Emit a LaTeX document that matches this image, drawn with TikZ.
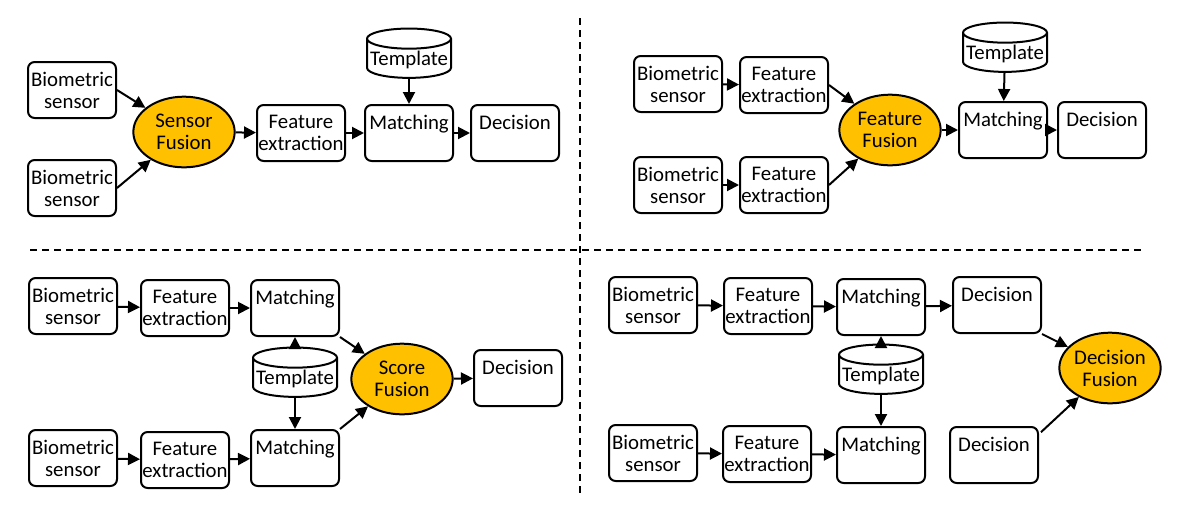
\documentclass[tikz,border=0pt]{standalone}
\usepackage{fontspec}
\setmainfont{Carlito}
\usetikzlibrary{shapes.geometric,arrows.meta}
\definecolor{fusegold}{HTML}{FFC000}

\begin{document}
\begin{tikzpicture}[
  x=0.75pt, y=-0.75pt,
  font=\fontsize{15.6}{16.5}\selectfont,
  box/.style={draw, rounded corners=5pt, line width=1.5pt, align=center,
              minimum width=66pt, minimum height=42pt, inner sep=0.5pt},
  fusion/.style={ellipse, draw, line width=1.5pt, fill=fusegold, align=center,
                 minimum width=76pt, minimum height=53pt, inner sep=0pt},
  store/.style={cylinder, shape border rotate=90, aspect=0.25, draw,
                line width=1.5pt, minimum width=63pt, minimum height=37pt,
                inner sep=1pt},
  arrow/.style={-{Triangle[length=9pt,width=9pt]}, line width=1.5pt},
  divider/.style={line width=1.2pt, dash pattern=on 5pt off 4pt}
]
  \useasboundingbox (0,0) rectangle (1186,515);

  % panel 1: sensor-level fusion
  \node[box] (p1bio1) at (72,90) {Biometric\\sensor};
  \node[box] (p1bio2) at (72,188) {Biometric\\sensor};
  \node[fusion] (p1fuse) at (184,132) {Sensor\\Fusion};
  \node[box] (p1feat) at (301,133) {Feature\\extraction};
  \node[store] (p1tmpl) at (409,60) {Template};
  \node[box] (p1match) at (409,133) {Matching\\\mbox{}};
  \node[box] (p1dec) at (515,133) {Decision\\\mbox{}};

  \draw[arrow] (p1bio1.east) -- (p1fuse);
  \draw[arrow] (p1bio2.east) -- (p1fuse);
  \draw[arrow] (p1fuse) -- (p1feat);
  \draw[arrow] (p1feat) -- (p1match);
  \draw[arrow] (p1match) -- (p1dec);
  \draw[arrow] (p1tmpl) -- (p1match);

  % panel 2: feature-level fusion
  \node[box] (p2bio1) at (678,84) {Biometric\\sensor};
  \node[box] (p2feat1) at (784,85) {Feature\\extraction};
  \node[box] (p2bio2) at (678,185) {Biometric\\sensor};
  \node[box] (p2feat2) at (784,185) {Feature\\extraction};
  \node[fusion] (p2fuse) at (890,130) {Feature\\Fusion};
  \node[store] (p2tmpl) at (1005,54) {Template};
  \node[box] (p2match) at (1003,130) {Matching\\\mbox{}};
  \node[box] (p2dec) at (1102,130) {Decision\\\mbox{}};

  \draw[arrow] (p2bio1) -- (p2feat1);
  \draw[arrow] (p2bio2) -- (p2feat2);
  \draw[arrow] (p2feat1.east) -- (p2fuse);
  \draw[arrow] (p2feat2.east) -- (p2fuse);
  \draw[arrow] (p2fuse.east) -- (p2match.west);
  \draw[arrow] (p2match) -- (p2dec);
  \draw[arrow] (p2tmpl) -- (p2match);

  % panel 3: score-level fusion
  \node[box] (p3bio1) at (73,306) {Biometric\\sensor};
  \node[box] (p3feat1) at (185,308) {Feature\\extraction};
  \node[box] (p3match1) at (295,308) {Matching\\\mbox{}};
  \node[store] (p3tmpl) at (295,379) {Template};
  \node[box] (p3match2) at (295,458) {Matching\\\mbox{}};
  \node[box] (p3bio2) at (73,458) {Biometric\\sensor};
  \node[box] (p3feat2) at (185,460) {Feature\\extraction};
  \node[fusion] (p3fuse) at (402,379) {Score\\Fusion};
  \node[box] (p3dec) at (518,378) {Decision\\\mbox{}};

  \draw[arrow] (p3bio1) -- (p3feat1);
  \draw[arrow] (p3feat1) -- (p3match1);
  \draw[arrow] (p3bio2) -- (p3feat2);
  \draw[arrow] (p3feat2) -- (p3match2);
  \draw[arrow] (p3tmpl) -- (p3match1);
  \draw[arrow] (p3tmpl) -- (p3match2);
  \draw[arrow] (p3match1.south east) -- (p3fuse);
  \draw[arrow] (p3match2.north east) -- (p3fuse);
  \draw[arrow] (p3fuse) -- (p3dec);

  % panel 4: decision-level fusion
  \node[box] (p4bio1) at (653,305) {Biometric\\sensor};
  \node[box] (p4feat1) at (768,306) {Feature\\extraction};
  \node[box] (p4match1) at (881,307) {Matching\\\mbox{}};
  \node[store] (p4tmpl) at (881,376) {Template};
  \node[box] (p4match2) at (881,455) {Matching\\\mbox{}};
  \node[box] (p4bio2) at (653,453) {Biometric\\sensor};
  \node[box] (p4feat2) at (767,454) {Feature\\extraction};
  \node[box] (p4dec1) at (997,305) {Decision\\\mbox{}};
  \node[box] (p4dec2) at (994,455) {Decision\\\mbox{}};
  \node[fusion] (p4fuse) at (1110,368) {Decision\\Fusion};

  \draw[arrow] (p4bio1) -- (p4feat1);
  \draw[arrow] (p4feat1) -- (p4match1);
  \draw[arrow] (p4bio2) -- (p4feat2);
  \draw[arrow] (p4feat2) -- (p4match2);
  \draw[arrow] (p4tmpl) -- (p4match1);
  \draw[arrow] (p4tmpl) -- (p4match2);
  \draw[arrow] (p4match1) -- (p4dec1);
  \draw[arrow] (p4dec1.south east) -- (p4fuse);
  \draw[arrow, shorten <=2pt] (p4dec2.25) -- (p4fuse);

  % separators
  \draw[divider] (580,18) -- (580,497);
  \draw[divider] (30,250) -- (1143,250);
\end{tikzpicture}
\end{document}
